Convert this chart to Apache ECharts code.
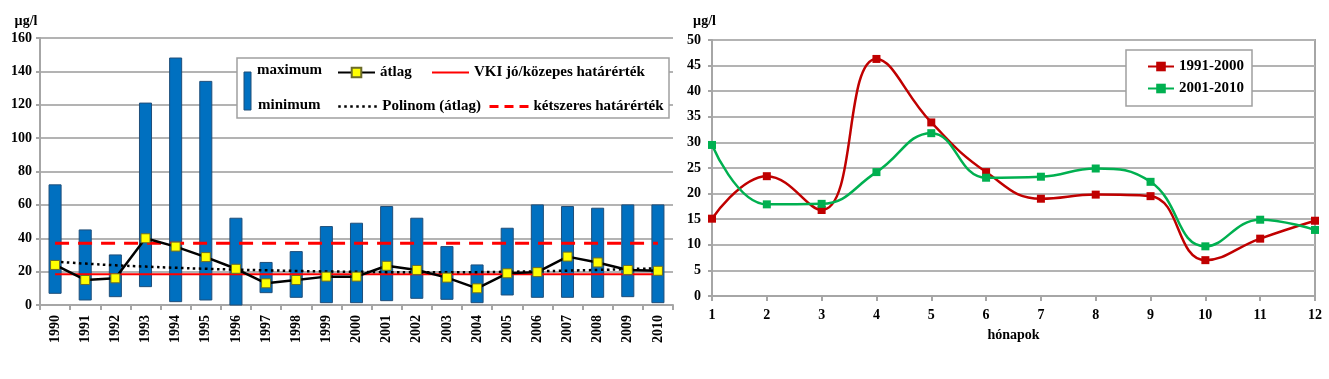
<!DOCTYPE html>
<html><head><meta charset="utf-8">
<script src="https://cdn.jsdelivr.net/npm/echarts@6/dist/echarts.min.js"></script>
<style>html,body{margin:0;padding:0;background:#fff}#c{width:1329px;height:379px}</style>
</head><body><div id="c"></div>
<script>
// ---- Left chart data ----
const years = ['1990','1991','1992','1993','1994','1995','1996','1997','1998','1999','2000','2001','2002','2003','2004','2005','2006','2007','2008','2009','2010'];
const maxVals = [72,45,30,121,148,134,52,25.5,32,47,49,59,52,35,24,46,60,59,58,60,60];
const minVals = [7,3,5,11,2,3,0,7.4,4.6,1.4,1.4,2.6,4,3.4,1.4,6,4.6,4.6,4.6,5,1.4];
const avgVals = [24,15,16,40,35,28.7,21.7,13,15,17,17,23.5,21,16.4,10,19,19.7,29,25.5,21,20.5];
const trendVals = [26,24.8,23.8,23,22.3,21.7,21.2,20.8,20.4,20.1,19.9,19.7,19.6,19.6,19.7,19.9,20.2,20.6,21,21.5,22];
const vkiLimit = 18.5;
const doubleLimit = 37;
const leftTicks = {min:0, max:160, interval:20};
// ---- Right chart data ----
const months = ['1','2','3','4','5','6','7','8','9','10','11','12'];
const series9100 = [15.1,23.4,16.8,46.3,33.9,24.2,19.0,19.8,19.5,7.0,11.2,14.7];
const series0110 = [29.5,17.9,18.0,24.2,31.8,23.1,23.3,24.9,22.3,9.7,14.9,12.9];
const rightTicks = {min:0, max:50, interval:5};

const FONT = 'Liberation Serif';
const txt = (size) => ({fontFamily: FONT, fontWeight: 'bold', fontSize: size, color: '#000'});
const GRIDC = '#b3b3b3';
const AXC = '#a6a6a6';
const noSym = {opacity: 0};

const chart = echarts.init(document.getElementById('c'), null, {renderer: 'canvas'});
const option = {
  animation: false,
  backgroundColor: '#fff',
  grid: [
    {left: 40, right: 656, top: 38, bottom: 74, containLabel: false},
    {left: 712, right: 14, top: 40, bottom: 83, containLabel: false, show: true, borderColor: AXC, borderWidth: 2, backgroundColor: 'transparent'}
  ],
  xAxis: [
    {gridIndex: 0, type: 'category', data: years, boundaryGap: true,
     axisLine: {lineStyle: {color: AXC, width: 2}},
     axisTick: {show: true, length: 5, lineStyle: {color: AXC, width: 2}},
     axisLabel: Object.assign(txt(14), {rotate: 90, margin: 10, interval: 0}),
     splitLine: {show: false}},
    {gridIndex: 1, type: 'category', data: months, boundaryGap: false,
     name: 'hónapok', nameLocation: 'middle', nameGap: 32, nameTextStyle: txt(14),
     axisLine: {lineStyle: {color: AXC, width: 2}},
     axisTick: {show: true, length: 5, lineStyle: {color: AXC, width: 2}},
     axisLabel: Object.assign(txt(14), {margin: 12, interval: 0}),
     splitLine: {show: false}}
  ],
  yAxis: [
    {gridIndex: 0, type: 'value', min: leftTicks.min, max: leftTicks.max, interval: leftTicks.interval,
     name: 'µg/l', nameLocation: 'end', nameGap: 10, nameTextStyle: Object.assign(txt(14), {padding: [0, 28, 0, 0]}),
     axisLine: {show: true, lineStyle: {color: AXC, width: 2}},
     axisTick: {show: true, length: 4, lineStyle: {color: AXC, width: 2}},
     axisLabel: Object.assign(txt(14), {margin: 8}),
     splitLine: {show: true, lineStyle: {color: GRIDC, width: 2}}},
    {gridIndex: 1, type: 'value', min: rightTicks.min, max: rightTicks.max, interval: rightTicks.interval,
     name: 'µg/l', nameLocation: 'end', nameGap: 12, nameTextStyle: Object.assign(txt(14), {padding: [0, 15, 0, 0]}),
     axisLine: {show: true, lineStyle: {color: AXC, width: 2}},
     axisTick: {show: true, length: 4, lineStyle: {color: AXC, width: 2}},
     axisLabel: Object.assign(txt(14), {margin: 11}),
     splitLine: {show: true, lineStyle: {color: GRIDC, width: 2}}}
  ],
  legend: [
    {data: ['átlag'], left: 337, top: 65, padding: 0, itemWidth: 37, itemHeight: 12, selectedMode: false, textStyle: txt(15)},
    {data: ['VKI jó/közepes határérték'], left: 431, top: 65, padding: 0, itemWidth: 37, itemHeight: 12, selectedMode: false, textStyle: txt(15),
     itemStyle: noSym, lineStyle: {width: 2}},
    {data: ['Polinom (átlag)'], left: 337, top: 99, padding: 0, itemWidth: 39, itemHeight: 12, selectedMode: false, textStyle: txt(15),
     itemStyle: noSym, lineStyle: {width: 2.5, type: [2.5, 3.5]}},
    {data: ['kétszeres határérték'], left: 488, top: 99, padding: 0, itemWidth: 39, itemHeight: 12, selectedMode: false, textStyle: txt(15),
     itemStyle: noSym, lineStyle: {width: 3, type: [9, 6]}},
    {data: ['1991-2000', '2001-2010'], orient: 'vertical', left: 1147, top: 59, padding: 0, itemGap: 7, itemWidth: 26, itemHeight: 12, selectedMode: false, textStyle: txt(15)}
  ],
  graphic: [
    {type: 'rect', z: 3, shape: {x: 237, y: 58, width: 432, height: 60}, style: {fill: '#fff', stroke: '#a0a0a0', lineWidth: 1.5}},
    {type: 'rect', z: 5, shape: {x: 244, y: 72, width: 7, height: 38}, style: {fill: '#0070C0', stroke: '#1f4e79', lineWidth: 1}},
    {type: 'text', z: 5, style: {x: 257, y: 70, text: 'maximum', font: 'bold 15px "Liberation Serif"', fill: '#000', textVerticalAlign: 'middle', verticalAlign: 'middle'}},
    {type: 'text', z: 5, style: {x: 258, y: 105, text: 'minimum', font: 'bold 15px "Liberation Serif"', fill: '#000', textVerticalAlign: 'middle', verticalAlign: 'middle'}},
    {type: 'rect', z: 3, shape: {x: 1126, y: 50, width: 126, height: 56}, style: {fill: '#fff', stroke: '#a0a0a0', lineWidth: 1.5}}
  ],
  series: [
    {name: 'range', type: 'custom', xAxisIndex: 0, yAxisIndex: 0, z: 2,
     data: years.map((y, i) => [i, minVals[i], maxVals[i]]),
     encode: {x: 0, y: [1, 2]},
     renderItem: function (params, api) {
       const lo = api.coord([api.value(0), api.value(1)]);
       const hi = api.coord([api.value(0), api.value(2)]);
       const w = api.size([1, 0])[0] * 0.4;
       return {type: 'rect', shape: {x: lo[0] - w / 2, y: hi[1], width: w, height: lo[1] - hi[1]},
               style: {fill: '#0070C0', stroke: '#1f4e79', lineWidth: 1}};
     }},
    {name: 'kétszeres határérték', type: 'line', xAxisIndex: 0, yAxisIndex: 0, z: 3,
     data: years.map(() => doubleLimit), symbol: 'none',
     itemStyle: {color: '#ff0000'}, lineStyle: {color: '#ff0000', width: 3, type: [14, 9]}},
    {name: 'VKI jó/közepes határérték', type: 'line', xAxisIndex: 0, yAxisIndex: 0, z: 3,
     data: years.map(() => vkiLimit), symbol: 'none',
     itemStyle: {color: '#ff0000'}, lineStyle: {color: '#ff0000', width: 2}},
    {name: 'Polinom (átlag)', type: 'line', xAxisIndex: 0, yAxisIndex: 0, z: 4, smooth: true,
     data: trendVals, symbol: 'none',
     itemStyle: {color: '#000'}, lineStyle: {color: '#000', width: 2.5, type: [2.5, 3.5]}},
    {name: 'átlag', type: 'line', xAxisIndex: 0, yAxisIndex: 0, z: 5,
     data: avgVals, symbol: 'rect', symbolSize: 9,
     itemStyle: {color: '#ffff00', borderColor: '#6b6b2a', borderWidth: 1},
     lineStyle: {color: '#000', width: 2.5}},
    {name: '1991-2000', type: 'line', xAxisIndex: 1, yAxisIndex: 1, smooth: 0.45,
     data: series9100, symbol: 'rect', symbolSize: 8,
     itemStyle: {color: '#c00000'}, lineStyle: {color: '#c00000', width: 2.5}},
    {name: '2001-2010', type: 'line', xAxisIndex: 1, yAxisIndex: 1, smooth: 0.45,
     data: series0110, symbol: 'rect', symbolSize: 8,
     itemStyle: {color: '#00b050'}, lineStyle: {color: '#00b050', width: 2.5}}
  ]
};
chart.setOption(option);
</script>
</body></html>
